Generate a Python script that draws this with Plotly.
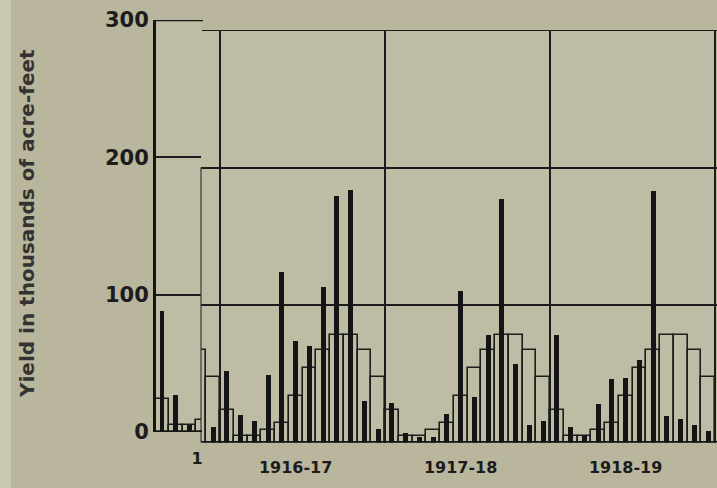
import plotly.graph_objects as go

# ---- data (thousands of acre-feet per month) ----
# Month slot 0 is the first month of the 1916-17 season; 12 slots per season.
main_months = list(range(-2, 36))
main_required = [
    67.5, 47.5,
    24, 5, 5, 9, 14, 34, 54, 67.5, 78.5, 78.5, 67.5, 47.5,   # 1916-17
    24, 5, 5, 9, 14, 34, 54, 67.5, 78.5, 78.5, 67.5, 47.5,   # 1917-18
    24, 5, 5, 9, 14, 34, 54, 67.5, 78.5, 78.5, 67.5, 47.5,   # 1918-19
]
yield_months = list(range(-1, 36))
main_yield = [
    11,
    52, 20, 16, 49, 124, 74, 70, 113, 179, 184, 30, 10,      # 1916-17
    29, 7, 4, 4, 21, 110, 33, 78, 177, 57, 13, 16,           # 1917-18
    78, 11, 5, 28, 46, 47, 60, 183, 19, 17, 13, 8.5,         # 1918-19
]

# tail of the preceding sheet
prev_months = [0, 1, 2, 3]
prev_required = [24, 5, 5, 9]
prev_yield_months = [0, 1, 2]
prev_yield = [88, 27, 5]

seasons = ["1916-17", "1917-18", "1918-19"]
season_label_slots = [5, 17, 29]
season_bounds = [-0.5, 11.5, 23.5, 35.5]
y_ticks = [0, 100, 200, 300]

# ---- styling ----
W, H = 717, 488
INK = "#141414"
LINE = "#1c1c1c"
PAPER = "#b9b69d"
FIELD = "#bebca4"
FONT = "DejaVu Sans"


def px_x(p):
    return p / W


def px_y(p):
    return (H - p) / H


fig = go.Figure()

# main sheet: requirement outlines, then monthly yield bars
fig.add_trace(go.Bar(
    x=main_months, y=main_required, width=1.0,
    marker=dict(color="rgba(0,0,0,0)", line=dict(color=LINE, width=1.6)),
    xaxis="x", yaxis="y", hoverinfo="skip", showlegend=False,
))
fig.add_trace(go.Bar(
    x=yield_months, y=main_yield, width=0.36,
    marker=dict(color=INK, line=dict(width=0)),
    xaxis="x", yaxis="y", showlegend=False,
))

# preceding sheet
fig.add_trace(go.Bar(
    x=prev_months, y=prev_required, width=1.0,
    marker=dict(color="rgba(0,0,0,0)", line=dict(color=LINE, width=1.6)),
    xaxis="x2", yaxis="y2", hoverinfo="skip", showlegend=False,
))
fig.add_trace(go.Bar(
    x=prev_yield_months, y=prev_yield, width=0.36,
    marker=dict(color=INK, line=dict(width=0)),
    xaxis="x2", yaxis="y2", showlegend=False,
))

slot_px = 13.75
main_left, main_right = 201, 717
x0_main = (main_left - 220) / slot_px - 0.5
x1_main = (main_right - 220) / slot_px - 0.5
prev_left, prev_right = 156, 201
x0_prev = (prev_left - 162) / slot_px
x1_prev = (prev_right - 162) / slot_px

fig.update_layout(
    width=W, height=H,
    margin=dict(l=0, r=0, t=0, b=0),
    paper_bgcolor=PAPER,
    plot_bgcolor=FIELD,
    barmode="overlay",
    bargap=0,
    xaxis=dict(
        domain=[px_x(main_left), 1.0], range=[x0_main, x1_main],
        anchor="y", showgrid=False, zeroline=False, showline=False,
        tickmode="array", tickvals=season_label_slots, ticktext=seasons,
        ticks="", ticklabelstandoff=13,
        tickfont=dict(family=FONT, size=16, color="#1c1c1c", weight="bold"),
        minor=dict(tickmode="array", tickvals=season_bounds, showgrid=True,
                   gridcolor=LINE, gridwidth=1.8, ticks=""),
        automargin=False,
    ),
    yaxis=dict(
        domain=[px_y(442.5), px_y(30)], range=[0, 300],
        anchor="x", showgrid=True, gridcolor=LINE, gridwidth=1.8,
        zeroline=False, showline=False, tickmode="array",
        tickvals=[100, 200, 300], showticklabels=False, ticks="",
        automargin=False,
    ),
    xaxis2=dict(
        domain=[px_x(prev_left), px_x(prev_right)], range=[x0_prev, x1_prev],
        anchor="y2", showgrid=False, zeroline=False, showline=False,
        tickmode="array", tickvals=[2.55], ticktext=["1"],
        ticks="", ticklabelstandoff=15,
        tickfont=dict(family=FONT, size=16, color="#1c1c1c", weight="bold"),
        automargin=False,
    ),
    yaxis2=dict(
        domain=[px_y(432), px_y(20)], range=[0, 300],
        anchor="x2", showgrid=True, gridcolor=LINE, gridwidth=1.8,
        zeroline=False, showline=True, linecolor=INK, linewidth=3,
        tickmode="array", tickvals=y_ticks, ticktext=[str(v) for v in y_ticks],
        ticks="", ticklabelstandoff=0,
        tickfont=dict(family=FONT, size=21, color="#1c1c1c", weight="bold"),
        automargin=False,
    ),
    shapes=[
        # faint lighter strip along the left edge of the sheet
        dict(type="rect", xref="paper", yref="paper", x0=0, x1=px_x(11),
             y0=0, y1=1, fillcolor="#c9c7b1", line=dict(width=0), layer="below"),
        # main sheet frame pieces
        dict(type="line", xref="paper", yref="y", x0=px_x(main_left), x1=1.0,
             y0=0, y1=0, line=dict(color=INK, width=3)),
        dict(type="line", xref="paper", yref="y", x0=px_x(main_left + 1), x1=1.0,
             y0=300, y1=300, line=dict(color=LINE, width=2)),
        dict(type="line", xref="paper", yref="y", x0=px_x(main_left), x1=px_x(main_left),
             y0=0, y1=200, line=dict(color="#3a3a3a", width=1.2)),
        # preceding sheet frame pieces
        dict(type="line", xref="paper", yref="y2", x0=px_x(prev_left - 2), x1=px_x(main_left + 1),
             y0=0, y1=0, line=dict(color=INK, width=3)),
        dict(type="line", xref="paper", yref="y2", x0=px_x(prev_left), x1=px_x(main_left + 2),
             y0=300, y1=300, line=dict(color=INK, width=2.5)),
    ],
    annotations=[
        dict(text="Yield in thousands of acre-feet", xref="paper", yref="paper",
             x=px_x(27), y=px_y(224), textangle=-90, showarrow=False,
             xanchor="center", yanchor="middle",
             font=dict(family=FONT, size=20, color="#333333", weight="bold")),
    ],
)

fig.write_html("out.html")
